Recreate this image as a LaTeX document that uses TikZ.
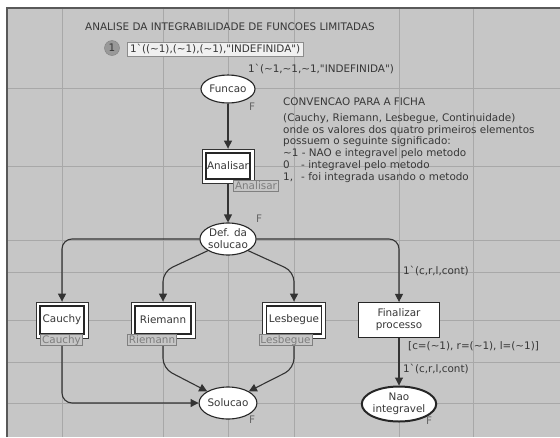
\documentclass[tikz,border=0pt]{standalone}
\usepackage{fontspec}
\setmainfont{DejaVu Sans}[Ligatures=TeXOff]
\usetikzlibrary{shapes.geometric,arrows.meta,positioning,calc}

\definecolor{pagebg}{RGB}{198,198,198}
\definecolor{gridln}{RGB}{168,168,168}
\definecolor{inktxt}{RGB}{55,55,55}
\definecolor{tagtxt}{RGB}{125,125,125}
\newcommand{\qt}{\symbol{34}}

\begin{document}
\begin{tikzpicture}[x=1pt,y=-1pt,font=\fontsize{10.4}{11.9}\selectfont,
    place/.style={ellipse, draw=black!85, fill=white, line width=1.1pt, inner sep=0pt, text=inktxt, align=center},
    subst/.style={rectangle, draw=black!80, fill=white, line width=0.8pt, minimum width=52pt, minimum height=36pt, text=inktxt,
        path picture={\draw[black!85, line width=1.7pt] ([shift={(4pt,4pt)}]path picture bounding box.south west) rectangle ([shift={(-4pt,-4pt)}]path picture bounding box.north east);}},
    trans/.style={rectangle, draw=black!85, fill=white, line width=1.2pt, text=inktxt, align=center},
    tag/.style={rectangle, draw=black!50, fill=pagebg, line width=0.8pt, text=tagtxt, inner xsep=1.5pt, inner ysep=0.8pt, text height=7.6pt, text depth=1.6pt},
    arc/.style={-{Triangle[length=8pt,width=8pt]}, draw=black!80, line width=1.1pt, rounded corners=10pt},
    lbl/.style={text=inktxt, inner sep=0pt, anchor=west},
    fmark/.style={text=black!60, inner sep=0pt}]
    \useasboundingbox (0,0) rectangle (560,437);

    % page and grid
    \fill[white] (0,0) rectangle (560,437);
    \fill[pagebg] (7,8) rectangle (560,437);
    \foreach \gx in {62,163,228,294,399,473}
        \draw[gridln, line width=0.9pt] (\gx,8) -- (\gx,437);
    \foreach \gy in {88,166,240,272,320,362,403}
        \draw[gridln, line width=0.9pt] (7,\gy) -- (560,\gy);
    \draw[black!65, line width=1.5pt] (7,437) -- (7,8) -- (560,8);

    % title and marking
    \node[lbl] (title) at (85,27) {ANALISE DA INTEGRABILIDADE DE FUNCOES LIMITADAS};
    \node[circle, fill=black!40, draw=black!50, minimum size=15pt, inner sep=0pt, text=inktxt] (tok) at (112,48) {1};
    \node[rectangle, draw=black!45, fill=white!94!black, anchor=west, inner xsep=3pt, inner ysep=2pt, text=inktxt] (mark) at (127,49)
        {1\textasciigrave((\textasciitilde1),(\textasciitilde1),(\textasciitilde1),\qt INDEFINIDA\qt)};
    \node[lbl] (initm) at (248,69) {1\textasciigrave(\textasciitilde1,\textasciitilde1,\textasciitilde1,\qt INDEFINIDA\qt)};

    % convention for the token
    \node[lbl] (conv) at (283,102) {CONVENCAO PARA A FICHA};
    \node[lbl, anchor=north west, align=left] (convtxt) at (283,113) {(Cauchy, Riemann, Lesbegue, Continuidade)\\
        onde os valores dos quatro primeiros elementos\\
        possuem o seguinte significado:\\
        \textasciitilde1 - NAO e integravel pelo metodo\\
        \makebox[18pt][l]{0}- integravel pelo metodo\\
        \makebox[18pt][l]{1,}- foi integrada usando o metodo};

    % places and transitions
    \node[place, minimum width=54pt, minimum height=28pt] (fun) at (228,89) {Funcao};
    \node[subst, minimum height=34pt] (ana) at (228,166) {Analisar};
    \node[place, minimum width=52pt, minimum height=32pt] (def) at (228,239) {Def. da\\solucao};
    \node[subst] (cau) at (62,320) {Cauchy};
    \node[subst, minimum width=64pt] (rie) at (163,320) {Riemann};
    \node[subst, minimum width=63pt] (les) at (294,320) {Lesbegue};
    \node[trans, minimum width=81pt, minimum height=35pt] (fin) at (399,320) {Finalizar\\processo};
    \node[place, minimum width=52pt, minimum height=32pt] (sol) at (228,403) {Solucao};
    \node[place, minimum width=74pt, minimum height=35pt, line width=2pt] (nao) at (399,404) {Nao\\integravel};

    % arcs
    \draw[arc] (fun) -- (ana);
    \draw[arc] (ana) -- (def);
    \draw[arc] (def) -| (cau);
    \draw[arc] (def) -| (fin);
    \draw[arc] (def.south west) -- ($(rie.north)+(0,-30)$) -- (rie.north);
    \draw[arc] (def.south east) -- ($(les.north)+(0,-30)$) -- (les.north);
    \draw[arc] (cau) |- (sol);
    \draw[arc] (rie) -- ($(rie.south)+(0,30)$) -- (sol.north west);
    \draw[arc] (les) -- ($(les.south)+(0,30)$) -- (sol.north east);
    \draw[arc] (fin) -- (nao);

    % substitution tags
    \node[tag] (ana-t) at (256,186) {Analisar};
    \node[tag] (cau-t) at (61.5,340) {Cauchy};
    \node[tag] (rie-t) at (152,340) {Riemann};
    \node[tag] (les-t) at (285.5,340) {Lesbegue};

    % inscriptions
    \node[lbl] (fin-in) at (403,271) {1\textasciigrave(c,r,l,cont)};
    \node[lbl] (guard) at (408,346) {[c=(\textasciitilde1), r=(\textasciitilde1), l=(\textasciitilde1)]};
    \node[lbl] (nao-in) at (403,369) {1\textasciigrave(c,r,l,cont)};

    % fusion marks
    \node[fmark] (fun-f) at (252,107) {F};
    \node[fmark] (def-f) at (259,219) {F};
    \node[fmark] (sol-f) at (252,420) {F};
    \node[fmark] (nao-f) at (429,421) {F};
\end{tikzpicture}
\end{document}
